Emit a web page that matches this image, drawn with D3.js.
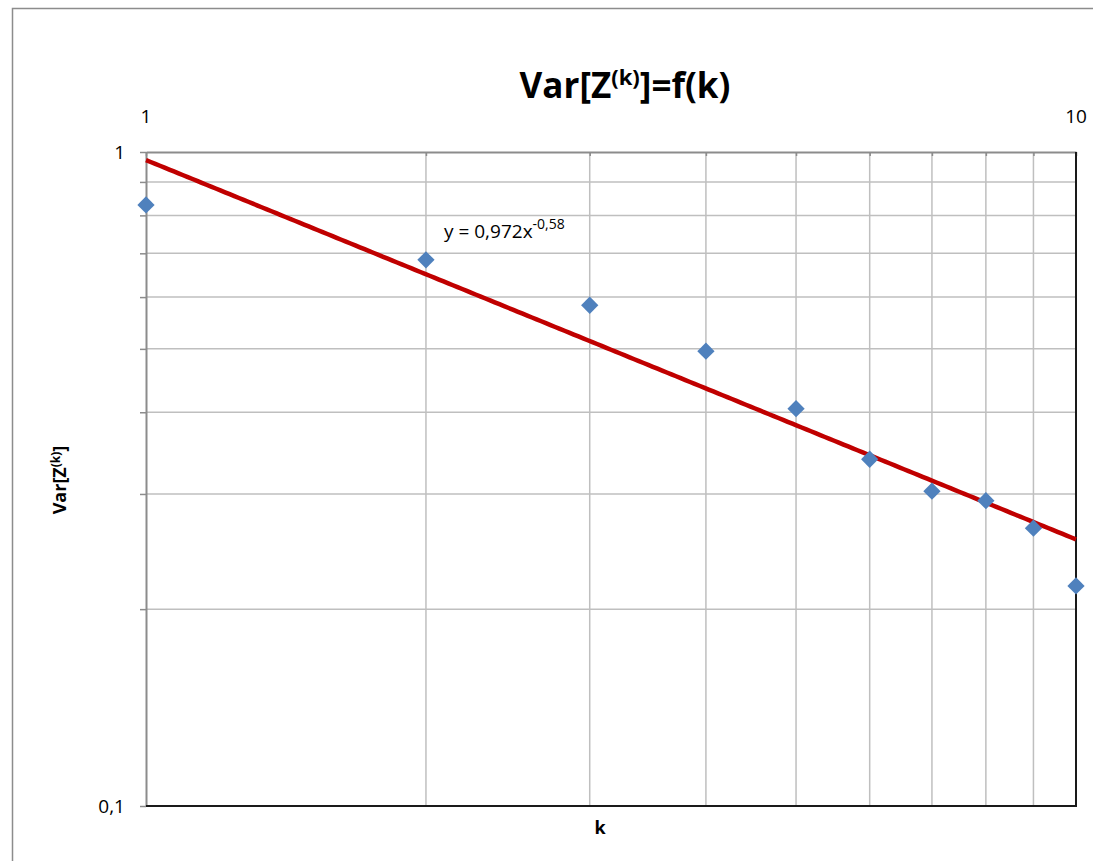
<!DOCTYPE html>
<html>
<head>
<meta charset="utf-8">
<script src="https://cdn.jsdelivr.net/npm/d3@7"></script>
<style>
  html, body { margin: 0; padding: 0; background: #fff; }
  svg { display: block; font-family: "Open Sans", Lato, "Liberation Sans", sans-serif; }
</style>
</head>
<body>
<svg id="chart" width="1093" height="861"></svg>
<script>
// Observed variance for each k
const kValues = [1, 2, 3, 4, 5, 6, 7, 8, 9, 10];
const varValues = [0.830, 0.684, 0.583, 0.496, 0.405, 0.339, 0.303, 0.293, 0.266, 0.217];

// Power-law trend: y = a * x^b
const trendA = 0.972;
const trendB = -0.58;

// Axis ticks and labels
const xGridTicks = [2, 3, 4, 5, 6, 7, 8, 9];
const yGridTicks = [0.2, 0.3, 0.4, 0.5, 0.6, 0.7, 0.8, 0.9];
const xLabelTicks = [1, 10];
const yLabelTicks = [0.1, 1];

const svg = d3.select("#chart");
const plot = { left: 146, right: 1076, top: 152, bottom: 806 };

const x = d3.scaleLog().domain([1, 10]).range([plot.left, plot.right]);
const y = d3.scaleLog().domain([0.1, 1]).range([plot.bottom, plot.top]);
const fmt = v => String(v).replace(".", ",");

// Outer chart frame
svg.append("rect")
  .attr("x", 12.5).attr("y", 8.5)
  .attr("width", 1200).attr("height", 1000)
  .attr("fill", "none").attr("stroke", "#8c8c8c").attr("stroke-width", 1.5);

// Grid lines
svg.append("g").selectAll("line").data(xGridTicks).join("line")
  .attr("x1", d => x(d)).attr("x2", d => x(d))
  .attr("y1", plot.top).attr("y2", plot.bottom)
  .attr("stroke", "#bfbfbf").attr("stroke-width", 1.5);

svg.append("g").selectAll("line").data(yGridTicks).join("line")
  .attr("x1", plot.left).attr("x2", plot.right)
  .attr("y1", d => y(d)).attr("y2", d => y(d))
  .attr("stroke", "#bfbfbf").attr("stroke-width", 1.5);

// Left value axis with tick marks at every grid line
const yAxis = d3.axisLeft(y)
  .tickValues([0.1, 0.2, 0.3, 0.4, 0.5, 0.6, 0.7, 0.8, 0.9, 1])
  .tickFormat("").tickSize(6).tickSizeOuter(0);
const gy = svg.append("g").attr("transform", `translate(${plot.left},0)`).call(yAxis);
gy.select(".domain").attr("stroke", "#8c8c8c").attr("stroke-width", 2);
gy.selectAll(".tick line").attr("stroke", "#8c8c8c").attr("stroke-width", 1.5);

// Top category axis
const xAxis = d3.axisTop(x)
  .tickValues([1, 2, 3, 4, 5, 6, 7, 8, 9, 10])
  .tickFormat("").tickSize(-4).tickSizeOuter(0);
const gx = svg.append("g").attr("transform", `translate(0,${plot.top})`).call(xAxis);
gx.select(".domain").attr("stroke", "#8c8c8c").attr("stroke-width", 2);
gx.selectAll(".tick line").attr("stroke", "#8c8c8c").attr("stroke-width", 1.5);

// Bottom and right frame lines
svg.append("line")
  .attr("x1", plot.left).attr("x2", plot.right + 1)
  .attr("y1", plot.bottom).attr("y2", plot.bottom)
  .attr("stroke", "#1a1a1a").attr("stroke-width", 2);
svg.append("line")
  .attr("x1", plot.right).attr("x2", plot.right)
  .attr("y1", plot.top).attr("y2", plot.bottom)
  .attr("stroke", "#1a1a1a").attr("stroke-width", 2);

// Tick labels
svg.append("g").selectAll("text").data(xLabelTicks).join("text")
  .attr("x", d => x(d)).attr("y", 123)
  .attr("text-anchor", "middle")
  .attr("font-size", 19).attr("fill", "#000")
  .text(d => fmt(d));

svg.append("g").selectAll("text").data(yLabelTicks).join("text")
  .attr("x", 125).attr("y", d => y(d) + 7)
  .attr("text-anchor", "end")
  .attr("font-size", 19).attr("fill", "#000")
  .text(d => fmt(d));

// Trend line
const trendData = d3.range(0, 201).map(i => {
  const k = Math.pow(10, i / 200);
  return [k, trendA * Math.pow(k, trendB)];
});
svg.append("path")
  .datum(trendData)
  .attr("fill", "none")
  .attr("stroke", "#c00000")
  .attr("stroke-width", 4.5)
  .attr("d", d3.line().x(d => x(d[0])).y(d => y(d[1])));

// Data markers
const diamond = d3.symbol().type(d3.symbolDiamond2).size(190);
svg.append("g").selectAll("path").data(kValues).join("path")
  .attr("transform", (d, i) => `translate(${x(d)},${y(varValues[i])})`)
  .attr("d", diamond)
  .attr("fill", "#4f81bd");

// Trend equation
const eq = svg.append("text")
  .attr("x", 444).attr("y", 238)
  .attr("font-size", 19).attr("fill", "#000");
eq.append("tspan").text(`y = ${fmt(trendA)}x`);
eq.append("tspan").attr("dy", -9).attr("font-size", 14).text(fmt(trendB));

// Chart title
const title = svg.append("text")
  .attr("x", 625).attr("y", 98)
  .attr("text-anchor", "middle")
  .attr("font-size", 35).attr("font-weight", "bold").attr("fill", "#000");
title.append("tspan").text("Var[Z");
title.append("tspan").attr("dy", -13).attr("font-size", 22).text("(k)");
title.append("tspan").attr("dy", 13).text("]=f(k)");

// Axis titles
svg.append("text")
  .attr("x", 600).attr("y", 834)
  .attr("text-anchor", "middle")
  .attr("font-size", 18).attr("font-weight", "bold")
  .text("k");

const yt = svg.append("text")
  .attr("transform", "translate(66,480) rotate(-90)")
  .attr("text-anchor", "middle")
  .attr("font-size", 18).attr("font-weight", "bold");
yt.append("tspan").text("Var[Z");
yt.append("tspan").attr("dy", -6).attr("font-size", 12).text("(k)");
yt.append("tspan").attr("dy", 6).text("]");
</script>
</body>
</html>
